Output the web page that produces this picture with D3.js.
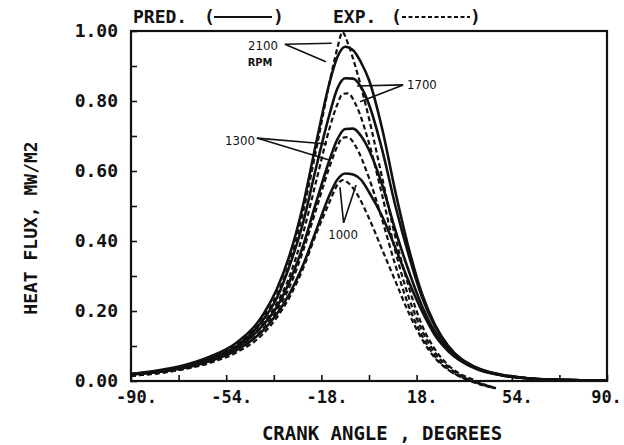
<!DOCTYPE html>
<html>
<head>
<meta charset="utf-8">
<script src="https://cdn.jsdelivr.net/npm/d3@7"></script>
<style>
	body { margin: 0; background: #fff; }
	svg { display: block; }
	text { font-family: "DejaVu Sans Mono", monospace; fill: #111; }
</style>
</head>
<body>
<svg id="chart"></svg>
<script>
const predAngles = [-90,-80,-70,-60,-50,-40,-35,-30,-25,-20,-15,-12,-9,-6,-3,0,5,10,15,20,25,30,40,50,60,70,80,90]
const expAngles = [-90,-80,-70,-60,-50,-40,-35,-30,-25,-20,-15,-12,-10,-8,-5,0,5,10,15,20,25,30,35,40,45,48]

const pred2100 = [0.020,0.030,0.045,0.070,0.110,0.190,0.260,0.360,0.500,0.680,0.850,0.925,0.955,0.945,0.910,0.860,0.720,0.540,0.380,0.250,0.160,0.100,0.040,0.018,0.008,0.004,0.002,0.001]
const pred1700 = [0.020,0.028,0.042,0.065,0.100,0.175,0.235,0.330,0.450,0.610,0.760,0.835,0.865,0.864,0.840,0.790,0.660,0.500,0.360,0.240,0.155,0.097,0.040,0.018,0.008,0.004,0.002,0.001]
const pred1300 = [0.020,0.027,0.040,0.062,0.095,0.160,0.210,0.285,0.385,0.510,0.630,0.690,0.720,0.721,0.700,0.660,0.560,0.430,0.315,0.215,0.140,0.090,0.038,0.017,0.008,0.004,0.002,0.001]
const pred1000 = [0.018,0.025,0.037,0.057,0.088,0.145,0.190,0.250,0.330,0.430,0.530,0.575,0.593,0.590,0.575,0.540,0.470,0.380,0.285,0.200,0.130,0.085,0.036,0.016,0.007,0.004,0.002,0.001]

const exp2100 = [0.015,0.025,0.040,0.065,0.105,0.180,0.245,0.340,0.480,0.660,0.850,0.950,0.997,0.965,0.895,0.750,0.580,0.410,0.270,0.160,0.090,0.045,0.018,0.002,-0.014,-0.022]
const exp1700 = [0.015,0.023,0.036,0.058,0.095,0.165,0.220,0.300,0.420,0.570,0.720,0.790,0.820,0.822,0.790,0.680,0.530,0.370,0.240,0.145,0.080,0.040,0.014,-0.002,-0.014,-0.020]
const exp1300 = [0.015,0.022,0.035,0.055,0.090,0.150,0.200,0.270,0.370,0.490,0.610,0.670,0.695,0.697,0.670,0.580,0.460,0.330,0.215,0.130,0.070,0.033,0.010,-0.005,-0.016,-0.020]
const exp1000 = [0.015,0.022,0.034,0.052,0.082,0.135,0.180,0.240,0.320,0.420,0.510,0.560,0.574,0.567,0.540,0.465,0.375,0.285,0.195,0.120,0.065,0.032,0.011,-0.004,-0.015,-0.020]

const xTicks = [-90,-72,-54,-36,-18,0,18,36,54,72,90]
const xLabels = [-90,-54,-18,18,54,90]
const yTicks = [0,0.1,0.2,0.3,0.4,0.5,0.6,0.7,0.8,0.9,1.0]
const yLabels = [0,0.2,0.4,0.6,0.8,1.0]

// rpm labels with their leader line ends, in data units
const rpmNotes = [
	{text:"2100", at:[-40.1,0.955], from:[-31.8,0.962], to:[[-14.1,0.965],[-16.3,0.912]]},
	{text:"1700", at:[20.0,0.845], from:[12.9,0.846], to:[[-4.5,0.843],[-3.4,0.798]]},
	{text:"1300", at:[-48.8,0.685], from:[-42.4,0.694], to:[[-15.9,0.677],[-14.7,0.631]]},
	{text:"1000", at:[-9.8,0.415], from:[-9.6,0.452], to:[[-11.0,0.554],[-4.9,0.56]]}
]

const width = 624, height = 445
const margin = {left:131, right:17, top:31, bottom:64}

const svg = d3.select("#chart")
	.attr("width", width)
	.attr("height", height)

const x = d3.scaleLinear().domain([-90,90]).range([margin.left, width-margin.right])
const y = d3.scaleLinear().domain([0,1]).range([height-margin.bottom, margin.top])

const line = d3.line()
	.x(d => x(d[0]))
	.y(d => y(d[1]))
	.curve(d3.curveMonotoneX)

const pred = [pred2100,pred1700,pred1300,pred1000]
const exp = [exp2100,exp1700,exp1300,exp1000]

svg.append("g")
	.selectAll("path")
	.data(pred)
	.join("path")
	.attr("d", d => line(d3.zip(predAngles,d)))
	.attr("fill","none")
	.attr("stroke","#111")
	.attr("stroke-width",2.6)

svg.append("g")
	.selectAll("path")
	.data(exp)
	.join("path")
	.attr("d", d => line(d3.zip(expAngles,d)))
	.attr("fill","none")
	.attr("stroke","#111")
	.attr("stroke-width",2.2)
	.attr("stroke-dasharray","5,3")

// frame
svg.append("rect")
	.attr("x", x(-90))
	.attr("y", y(1))
	.attr("width", x(90)-x(-90))
	.attr("height", y(0)-y(1))
	.attr("fill","none")
	.attr("stroke","#111")
	.attr("stroke-width",2.2)

const xAxis = d3.axisBottom(x)
	.tickValues(xTicks)
	.tickSizeInner(-6)
	.tickSizeOuter(0)
	.tickPadding(10)
	.tickFormat(d => xLabels.includes(d) ? d+"." : "")

svg.append("g")
	.attr("transform",`translate(0,${y(0)})`)
	.call(xAxis)
	.call(g => g.select(".domain").remove())
	.call(g => g.selectAll("line").attr("stroke","#111").attr("stroke-width",1.6))
	.call(g => g.selectAll("text")
		.attr("dx", d => d === 90 ? -1 : 5)
		.style("font-size","17px")
		.style("font-weight","bold")
		.attr("fill","#111"))

const yAxis = d3.axisLeft(y)
	.tickValues(yTicks)
	.tickSizeInner(-6)
	.tickSizeOuter(0)
	.tickPadding(13)
	.tickFormat(d => yLabels.some(v => Math.abs(v-d) < 1e-9) ? d3.format(".2f")(d) : "")

svg.append("g")
	.attr("transform",`translate(${x(-90)},0)`)
	.call(yAxis)
	.call(g => g.select(".domain").remove())
	.call(g => g.selectAll("line").attr("stroke","#111").attr("stroke-width",1.6))
	.call(g => g.selectAll("text")
		.style("font-size","18px")
		.style("font-weight","bold")
		.attr("fill","#111"))

// axis titles
svg.append("text")
	.attr("x", 382)
	.attr("y", 440)
	.attr("text-anchor","middle")
	.style("font-size","19px")
	.style("font-weight","bold")
	.text("CRANK ANGLE , DEGREES")

svg.append("text")
	.attr("transform","translate(37,228) rotate(-90)")
	.attr("text-anchor","middle")
	.style("font-size","18px")
	.style("font-weight","bold")
	.text("HEAT FLUX, MW/M2")

// legend across the top
const legend = svg.append("g").style("font-size","18px").style("font-weight","bold")
legend.append("text").attr("x",133).attr("y",23).text("PRED.")
legend.append("text").attr("x",204).attr("y",23).text("(")
legend.append("line").attr("x1",214).attr("x2",272).attr("y1",17).attr("y2",17)
	.attr("stroke","#111").attr("stroke-width",1.8)
legend.append("text").attr("x",273).attr("y",23).text(")")
legend.append("text").attr("x",333).attr("y",23).text("EXP.")
legend.append("text").attr("x",391).attr("y",23).text("(")
legend.append("line").attr("x1",402).attr("x2",470).attr("y1",17).attr("y2",17)
	.attr("stroke","#111").attr("stroke-width",1.8).attr("stroke-dasharray","4,2.5")
legend.append("text").attr("x",470).attr("y",23).text(")")

// rpm annotations
const notes = svg.append("g")
rpmNotes.forEach(n => {
	notes.append("text")
		.attr("x", x(n.at[0]))
		.attr("y", y(n.at[1]))
		.attr("text-anchor","middle")
		.attr("dominant-baseline","middle")
		.style("font-family","'DejaVu Sans Condensed', 'DejaVu Sans', sans-serif")
		.style("font-size","13px")
		.text(n.text)
	n.to.forEach(t => {
		notes.append("line")
			.attr("x1", x(n.from[0])).attr("y1", y(n.from[1]))
			.attr("x2", x(t[0])).attr("y2", y(t[1]))
			.attr("stroke","#111").attr("stroke-width",1.6)
	})
})
notes.append("text")
	.attr("x", x(-41.2))
	.attr("y", y(0.908))
	.attr("text-anchor","middle")
	.attr("dominant-baseline","middle")
	.style("font-family","'DejaVu Sans Condensed', 'DejaVu Sans', sans-serif")
	.style("font-size","11px")
	.style("font-weight","bold")
	.text("RPM")
</script>
</body>
</html>
